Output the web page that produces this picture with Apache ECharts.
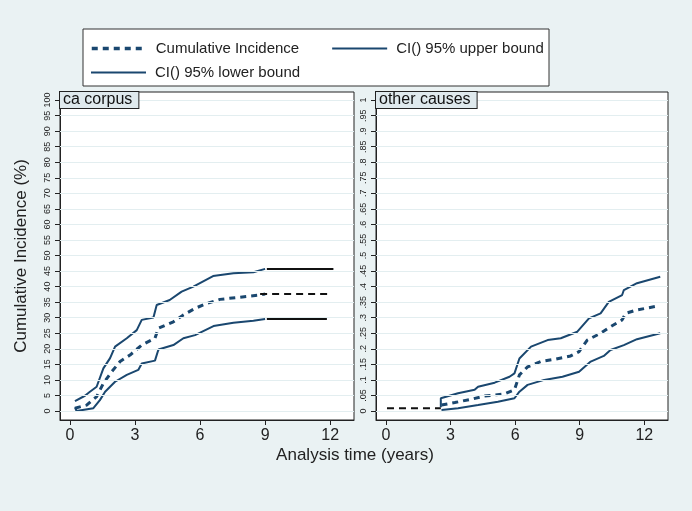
<!DOCTYPE html>
<html>
<head>
<meta charset="utf-8">
<script src="https://cdn.jsdelivr.net/npm/echarts@6/dist/echarts.min.js"></script>
<style>
html,body{margin:0;padding:0;background:#eaf2f3;}
#chart{width:692px;height:511px;}
</style>
</head>
<body>
<div id="chart"></div>
<script>
// ---------- data ----------
const panelTitles = ['ca corpus', 'other causes'];
const legendNames = ['Cumulative Incidence', 'CI() 95% upper bound', 'CI() 95% lower bound'];
const xTicks = [0, 3, 6, 9, 12];
const corpusYTicks = [0,5,10,15,20,25,30,35,40,45,50,55,60,65,70,75,80,85,90,95,100];
const otherYTicks = [0,0.05,0.1,0.15,0.2,0.25,0.3,0.35,0.4,0.45,0.5,0.55,0.6,0.65,0.7,0.75,0.8,0.85,0.9,0.95,1];

// ca corpus (percent)
const corpusCI = [[0.23,0.9],[0.77,1.9],[1.23,4.6],[1.54,8.9],[1.92,12.6],[2.31,15.9],[2.77,18],[3.31,21.2],[3.92,23.4],[4.08,26.6],[4.77,28.7],[5.23,30.9],[5.77,33],[6.31,34.6],[6.92,35.9],[7.85,36.6],[8.77,37.3],[9.0,37.6]];
const corpusUpper = [[0.23,3.2],[0.69,4.9],[0.92,6.2],[1.23,7.8],[1.54,13.7],[1.85,17],[2.08,20.7],[2.62,23.4],[3.08,26],[3.31,29.3],[3.85,30.1],[4.0,34.1],[4.6,35.7],[5.15,38.4],[5.69,40],[6.6,43.4],[7.54,44.3],[8.46,44.6],[9.0,45.7]];
const corpusLower = [[0.23,1.2],[0.3,0],[1.08,0.9],[1.38,3.5],[1.62,6.2],[2.08,9.4],[2.62,11.6],[3.15,13.2],[3.31,15.3],[3.92,16.2],[4.08,19.8],[4.77,21.2],[5.23,23.4],[5.77,24.4],[6.62,27.3],[7.54,28.4],[8.46,29],[9.0,29.6]];
const corpusExtCI = [[8.77,37.6],[11.9,37.6]];
const corpusExtUpper = [[9.08,45.7],[12.15,45.7]];
const corpusExtLower = [[9.08,29.6],[11.85,29.6]];

// other causes (proportion)
const otherCI = [[2.58,0.019],[3.2,0.027],[3.97,0.038],[4.58,0.048],[5.51,0.055],[5.97,0.068],[6.2,0.116],[6.58,0.142],[7.2,0.159],[7.82,0.166],[8.58,0.177],[8.97,0.191],[9.35,0.228],[9.97,0.25],[10.43,0.271],[10.97,0.293],[11.14,0.314],[11.66,0.325],[12.66,0.338]];
const otherUpper = [[2.55,0.012],[2.55,0.041],[3.35,0.057],[4.12,0.068],[4.28,0.078],[5.05,0.091],[5.74,0.11],[5.97,0.121],[6.2,0.169],[6.74,0.207],[7.51,0.228],[8.12,0.234],[8.89,0.255],[9.43,0.298],[9.97,0.314],[10.35,0.351],[10.97,0.373],[11.05,0.389],[11.66,0.411],[12.74,0.432]];
const otherLower = [[2.58,0.003],[3.35,0.009],[4.28,0.019],[5.2,0.03],[5.97,0.041],[6.2,0.062],[6.58,0.084],[7.35,0.1],[8.2,0.11],[8.97,0.126],[9.51,0.159],[10.12,0.177],[10.43,0.196],[11.05,0.212],[11.66,0.231],[12.74,0.25]];
const otherExtCI = [[0.05,0.009],[2.55,0.009]];

// ---------- chart ----------
const FONT = 'Liberation Sans, Arial, sans-serif';
const NAVY = '#1a476f';
const chart = echarts.init(document.getElementById('chart'), null, {renderer:'canvas'});

function fmtOther(v){ if (v === 0) return '0'; if (v === 1) return '1'; return String(+v.toFixed(2)).replace(/^0\./, '.'); }

const grids = [
  {left:60, top:92, width:294, height:328, show:true, backgroundColor:'#ffffff', borderColor:'#222', borderWidth:1},
  {left:376, top:92, width:292, height:328, show:true, backgroundColor:'#ffffff', borderColor:'#222', borderWidth:1}
];

function xAxisFor(i){
  return {
    type:'value', gridIndex:i, min:-0.46, max:13.1,
    axisLine:{show:true, onZero:false, lineStyle:{color:'#222', width:1}},
    axisTick:{show:true, customValues:xTicks, length:5, lineStyle:{color:'#222'}},
    axisLabel:{customValues:xTicks, color:'#222', fontSize:16, fontFamily:FONT, margin:8},
    splitLine:{show:false}
  };
}
function yAxisFor(i, ticks, min, max, fmt){
  const ax = {
    type:'value', gridIndex:i, min:min, max:max,
    axisLine:{show:true, onZero:false, lineStyle:{color:'#222', width:1}},
    axisTick:{show:true, customValues:ticks, length:5, lineStyle:{color:'#222'}},
    axisLabel:{customValues:ticks, rotate:90, color:'#222', fontSize:9, fontFamily:FONT, margin:8, formatter:fmt},
    splitLine:{show:false}
  };
  if (i === 0) {
    ax.name = 'Cumulative Incidence (%)';
    ax.nameLocation = 'middle';
    ax.nameGap = 30;
    ax.nameTextStyle = {fontSize:17, color:'#222', fontFamily:FONT};
  }
  return ax;
}

function lineSeries(name, data, gi, opts){
  return Object.assign({
    name:name, type:'line', xAxisIndex:gi, yAxisIndex:gi, data:data,
    symbol:'none', silent:true, animation:false, z:3,
    lineStyle:{color:NAVY, width:2}, itemStyle:{color:NAVY}
  }, opts||{});
}
function gridSeries(name, ticks, gi){
  return {
    name:name, type:'line', xAxisIndex:gi, yAxisIndex:gi, data:[], z:1, silent:true, animation:false,
    markLine:{silent:true, symbol:'none', label:{show:false}, animation:false,
      lineStyle:{color:'#e3eef0', type:'solid', width:1},
      data:ticks.map(v => ({yAxis:v}))}
  };
}

const dashStyle = {color:NAVY, width:3, type:[6,5]};
const series = [
  gridSeries('grid0', corpusYTicks, 0),
  gridSeries('grid1', otherYTicks, 1),
  lineSeries(legendNames[0], corpusCI, 0, {lineStyle:dashStyle}),
  lineSeries(legendNames[1], corpusUpper, 0),
  lineSeries(legendNames[2], corpusLower, 0),
  lineSeries('extCI0', corpusExtCI, 0, {lineStyle:{color:'#111', width:2, type:[7,5]}}),
  lineSeries('extU0', corpusExtUpper, 0, {lineStyle:{color:'#111', width:2}}),
  lineSeries('extL0', corpusExtLower, 0, {lineStyle:{color:'#111', width:2}}),
  lineSeries(legendNames[0], otherCI, 1, {lineStyle:dashStyle}),
  lineSeries(legendNames[1], otherUpper, 1),
  lineSeries(legendNames[2], otherLower, 1),
  lineSeries('extCI1', otherExtCI, 1, {lineStyle:{color:'#111', width:2, type:[7,5]}})
];

const legendCommon = {
  orient:'horizontal', itemWidth:55, itemHeight:14, padding:0, selectedMode:false,
  itemStyle:{opacity:0},
  textStyle:{fontSize:15, color:'#222', fontFamily:FONT, padding:[0,0,0,4]}
};

const option = {
  backgroundColor:'#eaf2f3',
  animation:false,
  grid:grids,
  xAxis:[xAxisFor(0), xAxisFor(1)],
  yAxis:[
    yAxisFor(0, corpusYTicks, -2.9, 102.6, v => String(v)),
    yAxisFor(1, otherYTicks, -0.029, 1.026, fmtOther)
  ],
  legend:[
    Object.assign({}, legendCommon, {data:[
      {name:legendNames[0], lineStyle:{color:NAVY, width:3.5, type:[6,5]}},
      {name:legendNames[1], lineStyle:{color:NAVY, width:2}}
    ], left:90, top:41, itemGap:32}),
    Object.assign({}, legendCommon, {data:[{name:legendNames[2], lineStyle:{color:NAVY, width:2}}], left:90, top:65})
  ],
  graphic:[
    {type:'rect', shape:{x:83, y:29, width:466, height:57}, style:{fill:'#ffffff', stroke:'#333', lineWidth:1}, z:0, silent:true},
    {type:'text', x:60, y:92, z:10, silent:true, style:{text:panelTitles[0], fontSize:16, fontFamily:FONT, fill:'#111',
      backgroundColor:'#dfe9ed', borderColor:'#222', borderWidth:1, padding:[0,6,0,3]}},
    {type:'text', x:376, y:92, z:10, silent:true, style:{text:panelTitles[1], fontSize:16, fontFamily:FONT, fill:'#111',
      backgroundColor:'#dfe9ed', borderColor:'#222', borderWidth:1, padding:[0,6,0,3]}},
    {type:'text', x:355, y:447, silent:true, style:{text:'Analysis time (years)', fontSize:17, fontFamily:FONT, fill:'#222', textAlign:'center'}}
  ],
  series:series
};
chart.setOption(option);
</script>
</body>
</html>
